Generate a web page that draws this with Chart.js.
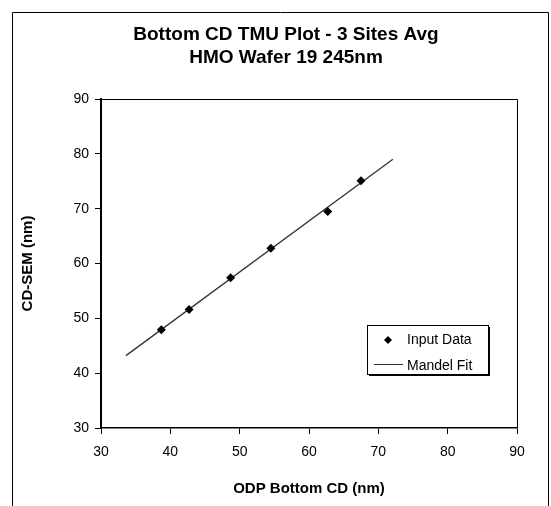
<!DOCTYPE html>
<html>
<head>
<meta charset="utf-8">
<title>Bottom CD TMU Plot</title>
<script src="https://cdn.jsdelivr.net/npm/chart.js@4/dist/chart.umd.min.js"></script>
<style>
  html, body { margin: 0; padding: 0; background: #fff; }
  #wrap { width: 551px; height: 506px; }
</style>
</head>
<body>
<div id="wrap"><canvas id="tmu-chart" width="551" height="506"></canvas></div>
<script>
// --- Data ---
const titleLines = ['Bottom CD TMU Plot - 3 Sites Avg', 'HMO Wafer 19 245nm'];
const inputX = [38.7, 42.7, 48.7, 54.5, 62.7, 67.5];
const inputY = [47.9, 51.6, 57.4, 62.8, 69.5, 75.1];
const fitX = [33.6, 72.1];
const fitY = [43.2, 79.0];
const xTicks = [30, 40, 50, 60, 70, 80, 90];
const yTicks = [30, 40, 50, 60, 70, 80, 90];

const FONT = '"Liberation Sans", Arial, sans-serif';

// --- Plugins ---
// page frame + two-line heading, like the scanned report page
const framePlugin = {
    id: 'frame',
    afterDraw(chart) {
        const ctx = chart.ctx;
        const area = chart.chartArea;
        ctx.save();
        ctx.strokeStyle = '#000';
        ctx.lineWidth = 1;
        ctx.beginPath();
        ctx.moveTo(12.5, 506);
        ctx.lineTo(12.5, 12.5);
        ctx.lineTo(548.5, 12.5);
        ctx.lineTo(548.5, 506);
        ctx.stroke();

        // top and right sides of the plot box
        ctx.beginPath();
        ctx.moveTo(area.left, area.top + 0.5);
        ctx.lineTo(area.right + 0.5, area.top + 0.5);
        ctx.lineTo(area.right + 0.5, area.bottom);
        ctx.stroke();

        ctx.fillStyle = '#000';
        ctx.font = 'bold 19px ' + FONT;
        ctx.textAlign = 'center';
        ctx.textBaseline = 'middle';
        titleLines.forEach((line, i) => {
            ctx.fillText(line, 286, 35 + i * 23);
        });
        ctx.restore();
    }
};

// legend box drawn inside the plot, entries taken from the datasets
const boxLegendPlugin = {
    id: 'boxLegend',
    afterDraw(chart) {
        const ctx = chart.ctx;
        const x = 367, y = 325, w = 121, h = 49;
        ctx.save();
        ctx.fillStyle = '#000';
        ctx.fillRect(x + 2, y + 2, w, h);
        ctx.fillStyle = '#fff';
        ctx.fillRect(x, y, w, h);
        ctx.strokeStyle = '#000';
        ctx.lineWidth = 1;
        ctx.strokeRect(x + 0.5, y + 0.5, w, h);

        ctx.font = '14px ' + FONT;
        ctx.textBaseline = 'middle';
        ctx.textAlign = 'left';
        chart.data.datasets.forEach((ds, i) => {
            const cy = y + 15 + i * 26;
            if (ds.showLine) {
                ctx.strokeStyle = ds.borderColor;
                ctx.lineWidth = 1;
                ctx.beginPath();
                ctx.moveTo(x + 7, cy - 1.5);
                ctx.lineTo(x + 36, cy - 1.5);
                ctx.stroke();
            } else {
                ctx.fillStyle = ds.backgroundColor;
                ctx.beginPath();
                ctx.moveTo(x + 21, cy - 4);
                ctx.lineTo(x + 25, cy);
                ctx.lineTo(x + 21, cy + 4);
                ctx.lineTo(x + 17, cy);
                ctx.closePath();
                ctx.fill();
            }
            ctx.fillStyle = '#000';
            ctx.fillText(ds.label, x + 40, cy);
        });
        ctx.restore();
    }
};

// --- Chart ---
const canvas = document.getElementById('tmu-chart');

new Chart(canvas, {
    type: 'scatter',
    data: {
        datasets: [
            {
                label: 'Input Data',
                data: inputX.map((v, i) => ({ x: v, y: inputY[i] })),
                pointStyle: 'rectRot',
                pointRadius: 4.5,
                backgroundColor: '#000',
                borderColor: '#000',
                borderWidth: 0,
                order: 1
            },
            {
                label: 'Mandel Fit',
                data: fitX.map((v, i) => ({ x: v, y: fitY[i] })),
                showLine: true,
                pointRadius: 0,
                borderColor: '#333',
                borderWidth: 1.3,
                order: 2
            }
        ]
    },
    options: {
        responsive: false,
        animation: false,
        layout: { padding: { left: 14, right: 34, top: 99, bottom: 8 } },
        plugins: {
            legend: { display: false },
            title: { display: false },
            tooltip: { enabled: false }
        },
        scales: {
            x: {
                type: 'linear',
                min: 30,
                max: 90,
                afterBuildTicks: (scale) => { scale.ticks = xTicks.map(v => ({ value: v })); },
                afterFit: (scale) => { scale.height = 70; },
                ticks: { color: '#000', padding: 10, font: { family: FONT, size: 14 } },
                grid: { drawOnChartArea: false, drawTicks: true, tickLength: 6, tickColor: '#000' },
                border: { display: true, color: '#000', width: 1.5 },
                title: {
                    display: true,
                    text: 'ODP Bottom CD (nm)',
                    color: '#000',
                    padding: { top: 0, bottom: 0 },
                    font: { family: FONT, size: 15, weight: 'bold' }
                }
            },
            y: {
                type: 'linear',
                min: 30,
                max: 90,
                afterBuildTicks: (scale) => { scale.ticks = yTicks.map(v => ({ value: v })); },
                afterFit: (scale) => { scale.width = 87; },
                ticks: { color: '#000', padding: 6, font: { family: FONT, size: 14 } },
                grid: { drawOnChartArea: false, drawTicks: true, tickLength: 6, tickColor: '#000' },
                border: { display: true, color: '#000', width: 2 },
                title: {
                    display: true,
                    text: 'CD-SEM (nm)',
                    color: '#000',
                    padding: { top: 5, bottom: 0 },
                    font: { family: FONT, size: 15, weight: 'bold' }
                }
            }
        }
    },
    plugins: [framePlugin, boxLegendPlugin]
});
</script>
</body>
</html>
